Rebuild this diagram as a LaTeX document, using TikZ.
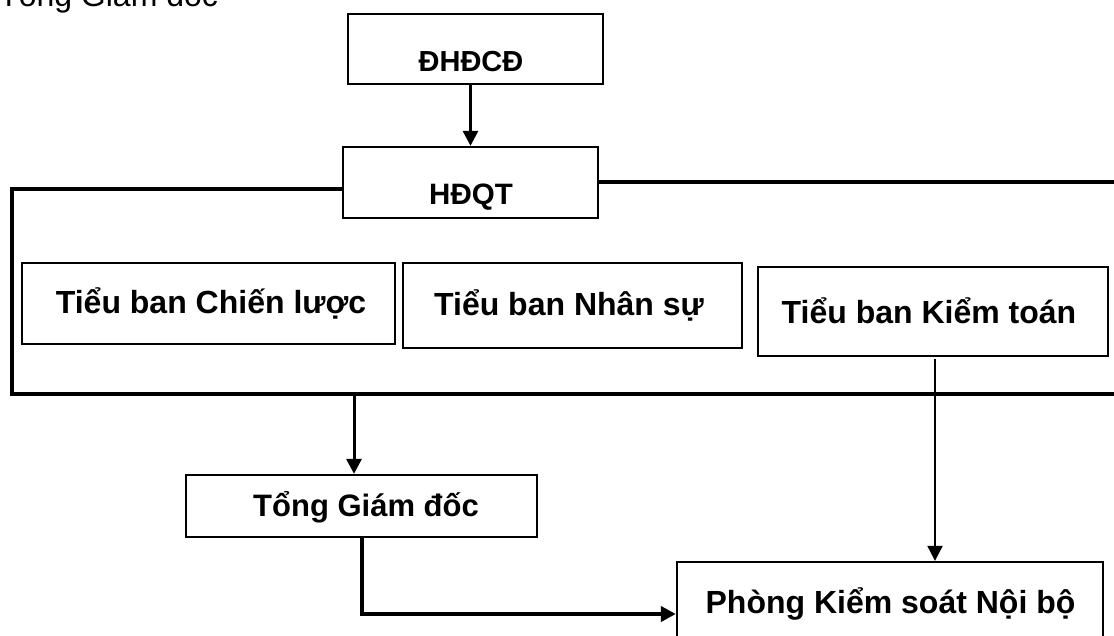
\documentclass[tikz,border=0pt]{standalone}
\usepackage{fontspec}
\setmainfont{Liberation Sans}
\usetikzlibrary{arrows.meta}
\begin{document}
\begin{tikzpicture}[x=1pt,y=-1pt,
  box/.style={draw, line width=2.3pt, rectangle, inner sep=0pt},
  lbl/.style={font=\bfseries\fontsize{32}{38}\selectfont, anchor=base, inner sep=0pt},
  frame/.style={line width=4pt},
  arr/.style={line width=3pt, -{Triangle[length=15pt,width=15pt]}},
  thinarr/.style={line width=2pt, -{Triangle[length=15pt,width=15pt]}},
]
\useasboundingbox (0,0) rectangle (1114,636);

% boxes
\node[box, minimum width=255pt, minimum height=70pt] (dhdcd) at (475.5,49) {};
\node[box, minimum width=255pt, minimum height=71pt] (hdqt) at (470.5,182.5) {};
\node[box, minimum width=373pt, minimum height=81pt] (cl) at (208.5,303.5) {};
\node[box, minimum width=339pt, minimum height=85pt] (ns) at (572.5,305.5) {};
\node[box, minimum width=350pt, minimum height=89pt] (kt) at (933,311.5) {};
\node[box, minimum width=351pt, minimum height=62pt] (tgd) at (361.5,506) {};
\node[box, minimum width=426pt, minimum height=90pt] (pk) at (890,607) {};

% labels
\node[font=\fontsize{32}{38}\selectfont, anchor=base west, inner sep=0pt] (top) at (-1,7) {Tổng Giám đốc};
\node[lbl, font=\bfseries\fontsize{29}{34}\selectfont] (tdhdcd) at (471,71.5) {ĐHĐCĐ};
\node[lbl, font=\bfseries\fontsize{29.5}{34}\selectfont] (thdqt) at (471,205) {HĐQT};
\node[lbl] (tcl) at (211,313.5) {Tiểu ban Chiến lược};
\node[lbl] (tns) at (569,315.5) {Tiểu ban Nhân sự};
\node[lbl] (tkt) at (929,323.5) {Tiểu ban Kiểm toán};
\node[lbl, font=\bfseries\fontsize{31}{36}\selectfont] (ttgd) at (366,516) {Tổng Giám đốc};
\node[lbl] (tpk) at (890.5,613) {Phòng Kiểm soát Nội bộ};

% frame around HĐQT committees
\coordinate (fl) at (12,189);
\coordinate (fb) at (12,394);
\coordinate (fr) at (1120,394);
\coordinate (hr) at (1120,182);
\draw[frame] (hdqt.west |- fl) -- (fl) -- (fb) -- (fr);
\draw[frame] (hdqt.east |- hr) -- (hr);

% connectors
\draw[arr] (dhdcd.south -| hdqt.north) -- (hdqt.north);
\coordinate (j1) at (354,394);
\draw[arr] (j1) -- (j1 |- tgd.north);
\coordinate (kb) at (935,359);
\draw[thinarr] (kb) -- (kb |- pk.north);
\coordinate (tb) at (362,537);
\coordinate (pe) at (0,614);
\draw[arr, line width=4pt] (tb) |- (pk.west |- pe);
\end{tikzpicture}
\end{document}
